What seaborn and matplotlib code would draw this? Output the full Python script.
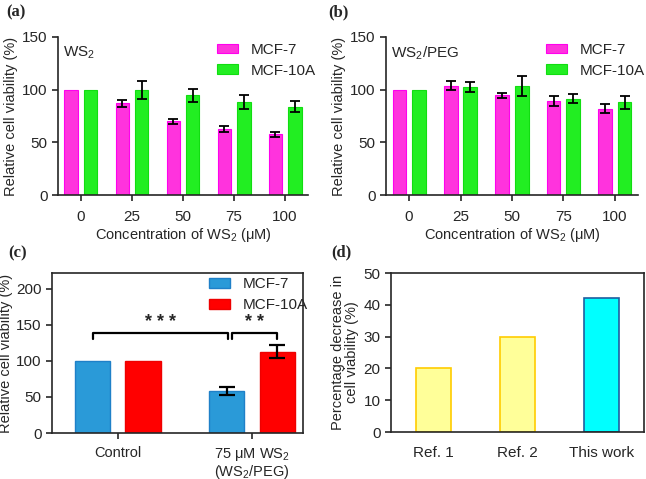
## Viabilidade celular - WS2 e WS2/PEG

import numpy as np
import pandas as pd
import seaborn as sns
import matplotlib.pyplot as plt

## Dados
conc = ['0', '25', '50', '75', '100']
linhas = ['MCF-7', 'MCF-10A']

ws2_mcf7 = [100, 87, 70, 62.5, 57.5]
ws2_mcf7_err = [0, 3.5, 2.4, 2.7, 2.4]
ws2_mcf10a = [100, 100, 94.7, 88.7, 84]
ws2_mcf10a_err = [0, 8.4, 6.3, 6.6, 5.4]

peg_mcf7 = [100, 103.9, 94.7, 89.4, 81.8]
peg_mcf7_err = [0, 4.6, 2.2, 5, 4.4]
peg_mcf10a = [100, 102.3, 103.3, 91.6, 88.1]
peg_mcf10a_err = [0, 5, 9.3, 4.7, 6.2]

grupos_c = ['Control', '75 μM WS$_2$\n(WS$_2$/PEG)']
c_mcf7 = [100, 58.6]
c_mcf7_err = [0, 5.8]
c_mcf10a = [100, 113]
c_mcf10a_err = [0, 9]

refs = ['Ref. 1', 'Ref. 2', 'This work']
decrescimo = [20, 30, 42]

## Estilo
sns.set_style('ticks')
plt.rcParams['font.family'] = ['Liberation Sans', 'DejaVu Sans']
plt.rcParams['mathtext.fontset'] = 'custom'
plt.rcParams['mathtext.rm'] = 'Liberation Sans'
plt.rcParams['mathtext.it'] = 'Liberation Sans:italic'
plt.rcParams['font.size'] = 11
plt.rcParams['axes.labelsize'] = 10.5
plt.rcParams['axes.linewidth'] = 1.2
plt.rcParams['xtick.major.width'] = 1.2
plt.rcParams['ytick.major.width'] = 1.2
plt.rcParams['xtick.major.size'] = 4
plt.rcParams['ytick.major.size'] = 4

cor_rosa = '#ff33dd'
cor_verde = '#22ee22'
cor_azul = '#2a9ad8'
cor_verm = '#ff0000'


def tabela(grupos, v1, v2):
    return pd.DataFrame({
        'grupo': list(grupos) * 2,
        'linha': [linhas[0]] * len(grupos) + [linhas[1]] * len(grupos),
        'valor': list(v1) + list(v2),
    })


def barras_erro(ax, conts, erros, cap = 3.5, lw = 1.3):
    # erro em cada barra, a partir da posicao do patch
    for cont, err in zip(conts, erros):
        for barra, e in zip(cont, err):
            if e <= 0:
                continue
            xc = barra.get_x() + barra.get_width() / 2
            ax.errorbar(xc, barra.get_height(), yerr = e, color = 'black',
                        capsize = cap, elinewidth = lw, capthick = lw)


def painel_ab(ax, v1, e1, v2, e2, rotulo):
    df = tabela(conc, v1, v2)
    sns.barplot(data = df, x = 'grupo', y = 'valor', hue = 'linha',
                palette = [cor_rosa, cor_verde], width = 0.76, gap = 0.3,
                saturation = 1, legend = False, ax = ax)
    conts = list(ax.containers)
    for cont, ec in zip(conts, ['#ff00ee', '#11dd11']):
        for b in cont:
            b.set_edgecolor(ec)
            b.set_linewidth(0.8)
    barras_erro(ax, conts, [e1, e2])
    ax.set_ylim(0, 150)
    ax.set_yticks([0, 50, 100, 150])
    ax.set_xlim(-0.45, 4.45)
    sns.despine(ax = ax)
    ax.set_xlabel('Concentration of WS$_2$ (μM)', labelpad = 1)
    ax.set_ylabel('Relative cell viability (%)', labelpad = 3)
    ax.tick_params(axis = 'x', pad = 7)
    ax.text(0.02, 0.95, rotulo, transform = ax.transAxes, va = 'top')
    ax.legend(conts, linhas, loc = 'upper left',
              bbox_to_anchor = (0.58, 1.05), frameon = False,
              handlelength = 1.4, handleheight = 0.6, labelspacing = 0.45)


fig = plt.figure(figsize = (6.46, 4.79), dpi = 100)

ax_a = fig.add_axes([0.0898, 0.5929, 0.387, 0.3299])
ax_b = fig.add_axes([0.5975, 0.5929, 0.390, 0.3299])
ax_c = fig.add_axes([0.0805, 0.0960, 0.3885, 0.334])
ax_d = fig.add_axes([0.6053, 0.0981, 0.3915, 0.3319])

painel_ab(ax_a, ws2_mcf7, ws2_mcf7_err, ws2_mcf10a, ws2_mcf10a_err, 'WS$_2$')
painel_ab(ax_b, peg_mcf7, peg_mcf7_err, peg_mcf10a, peg_mcf10a_err,
          'WS$_2$/PEG')

## Painel (c)
df_c = tabela(grupos_c, c_mcf7, c_mcf10a)
sns.barplot(data = df_c, x = 'grupo', y = 'valor', hue = 'linha',
            palette = [cor_azul, cor_verm], width = 0.75, gap = 0.3,
            saturation = 1, legend = False, ax = ax_c)
conts_c = list(ax_c.containers)
for cont, ec in zip(conts_c, ['#1f80c8', '#ee0000']):
    for b in cont:
        b.set_edgecolor(ec)
        b.set_linewidth(1.0)
barras_erro(ax_c, conts_c, [c_mcf7_err, c_mcf10a_err], cap = 5.5, lw = 1.6)
ax_c.set_ylim(0, 222)
ax_c.set_yticks([0, 50, 100, 150, 200])
ax_c.set_xlim(-0.49, 1.38)
ax_c.set_xlabel('')
ax_c.set_ylabel('Relative cell viability (%)', labelpad = 2)
ax_c.tick_params(axis = 'x', pad = 5, labelsize = 10.5)
for t in ax_c.get_xticklabels():
    t.set_linespacing(1.0)
ax_c.legend(conts_c, linhas, loc = 'upper left',
            bbox_to_anchor = (0.57, 1.06), frameon = False,
            handlelength = 1.4, handleheight = 0.6, labelspacing = 0.45)

# Colchetes de significancia
centros = [[b.get_x() + b.get_width() / 2 for b in cont] for cont in conts_c]


def colchete(ax, x1, x2, texto):
    ax.plot([x1, x1, x2, x2], [131, 139, 139, 131], color = 'black', lw = 1.6)
    ax.text((x1 + x2) / 2, 141, texto, ha = 'center', va = 'bottom',
            fontsize = 13, weight = 'bold')


colchete(ax_c, centros[0][0], centros[0][1] + 0.01, '* * *')
colchete(ax_c, centros[0][1] + 0.04, centros[1][1], '* *')

## Painel (d)
sns.barplot(x = refs, y = decrescimo, hue = refs,
            palette = ['#ffff99', '#ffff99', '#00ffff'], width = 0.42,
            saturation = 1, legend = False, ax = ax_d)
for b, ec in zip(ax_d.patches, ['#ffcc00', '#ffcc00', '#1f5f9f']):
    b.set_edgecolor(ec)
    b.set_linewidth(1.2)
ax_d.set_ylim(0, 50)
ax_d.set_xlim(-0.51, 2.51)
ax_d.set_yticks([0, 10, 20, 30, 40, 50])
ax_d.tick_params(axis = 'x', length = 0, pad = 10)
ax_d.set_ylabel('Percentage decrease in\ncell viability (%)', labelpad = 3,
                linespacing = 1.0)

# Rotulos dos paineis
for txt, x, y in [('(a)', 0.01, 0.99), ('(b)', 0.508, 0.99),
                  ('(c)', 0.013, 0.488), ('(d)', 0.513, 0.49)]:
    fig.text(x, y, txt, family = 'Liberation Serif', weight = 'bold',
             fontsize = 12, va = 'top')

plt.savefig('out.png', dpi = 100)
